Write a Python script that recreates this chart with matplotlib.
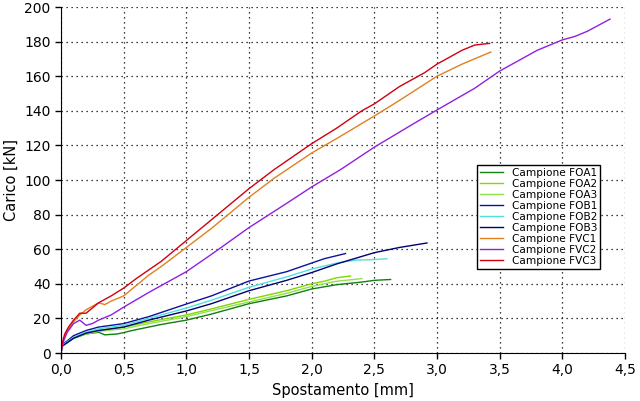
import numpy as np
import matplotlib
matplotlib.use('Agg')
import matplotlib.pyplot as plt

# curve readings (spostamento mm, carico kN)
foa1_x = [0, 0.01, 0.05, 0.1, 0.2, 0.3, 0.35, 0.45, 0.6, 0.8, 1.0, 1.2, 1.5, 1.8, 2.0, 2.2, 2.4, 2.5, 2.63]
foa1_y = [0, 4, 6, 8.5, 11, 12, 10.5, 11, 13.5, 16.5, 19, 22.5, 28.5, 33, 37, 39.5, 41, 42, 42.5]
foa2_x = [0, 0.01, 0.05, 0.1, 0.2, 0.3, 0.5, 0.7, 1.0, 1.2, 1.5, 1.8, 2.0, 2.1, 2.2, 2.31]
foa2_y = [0, 4.5, 6.5, 9, 11.5, 13, 15, 18, 22, 25.5, 31, 36, 40, 41.5, 43.5, 44.5]
foa3_x = [0, 0.01, 0.05, 0.1, 0.2, 0.3, 0.5, 0.7, 1.0, 1.2, 1.5, 1.8, 2.0, 2.2, 2.4]
foa3_y = [0, 4, 6, 8.5, 11, 12.5, 14, 17, 21, 24.5, 29.5, 34.5, 38.5, 41.5, 43]
fob1_x = [0, 0.01, 0.05, 0.1, 0.2, 0.3, 0.5, 0.7, 1.0, 1.2, 1.5, 1.8, 2.0, 2.1, 2.27]
fob1_y = [0, 5, 7, 10, 13, 15, 17, 21, 28.3, 33, 41.6, 47, 52, 54.5, 57.5]
fob2_x = [0, 0.01, 0.05, 0.1, 0.2, 0.3, 0.5, 0.7, 1.0, 1.2, 1.5, 1.8, 2.0, 2.2, 2.35, 2.5, 2.6]
fob2_y = [0, 4.5, 6.5, 9, 12, 14, 16, 20, 26, 30.5, 38, 44, 48.5, 52, 53.7, 54, 54.5]
fob3_x = [0, 0.01, 0.05, 0.1, 0.2, 0.3, 0.5, 0.7, 1.0, 1.2, 1.5, 1.8, 2.0, 2.2, 2.5, 2.7, 2.92]
fob3_y = [0, 4, 6, 8.5, 11.5, 13, 15, 19, 24.3, 28.5, 36, 42, 46.5, 51.5, 58, 61, 63.6]
fvc1_x = [0, 0.02, 0.05, 0.1, 0.15, 0.2, 0.25, 0.3, 0.35, 0.4, 0.5, 0.6, 0.7, 0.8, 1.0, 1.2, 1.5, 1.7, 2.0, 2.2, 2.5, 2.7, 3.0, 3.2, 3.43]
fvc1_y = [0, 7, 13, 18, 22, 25, 27, 29, 28, 30, 33, 39, 45, 50, 61, 72, 90, 101, 115.6, 124, 137, 146, 160, 167, 174]
fvc2_x = [0, 0.02, 0.05, 0.1, 0.15, 0.2, 0.25, 0.3, 0.4, 0.5, 0.7, 1.0, 1.2, 1.5, 1.8, 2.0, 2.23, 2.5, 2.8, 3.0, 3.3, 3.5, 3.8, 4.0, 4.1, 4.2, 4.38]
fvc2_y = [0, 7, 12, 17, 19, 16, 17, 19, 22, 26.5, 35, 47, 57, 72.5, 86.5, 96, 106, 119, 132, 140.5, 153, 163, 175, 181, 183, 186, 193]
fvc3_x = [0, 0.01, 0.03, 0.06, 0.1, 0.15, 0.2, 0.25, 0.3, 0.4, 0.5, 0.6, 0.7, 0.8, 0.9, 1.0, 1.2, 1.4, 1.5, 1.7, 1.9, 2.0, 2.2, 2.4, 2.5, 2.7, 2.9, 3.0, 3.1, 3.2, 3.3, 3.42]
fvc3_y = [0, 6, 11, 15, 19, 23, 23, 26, 29, 33, 37.5, 43, 48, 53, 59, 65, 77, 89, 95, 106, 116, 121, 130, 140, 144, 154, 162, 167, 171, 175, 178, 179]

labels = ['Campione FOA1', 'Campione FOA2', 'Campione FOA3',
          'Campione FOB1', 'Campione FOB2', 'Campione FOB3',
          'Campione FVC1', 'Campione FVC2', 'Campione FVC3']
colors = ['#108010', '#80d800', '#90e050', '#1010a0', '#50e0e0', '#000070',
          '#e08020', '#9020e0', '#d00010']
series = [(foa1_x, foa1_y), (foa2_x, foa2_y), (foa3_x, foa3_y),
          (fob1_x, fob1_y), (fob2_x, fob2_y), (fob3_x, fob3_y),
          (fvc1_x, fvc1_y), (fvc2_x, fvc2_y), (fvc3_x, fvc3_y)]

xticks = [0, 0.5, 1.0, 1.5, 2.0, 2.5, 3.0, 3.5, 4.0, 4.5]
xticklabels = ['0,0', '0,5', '1,0', '1,5', '2,0', '2,5', '3,0', '3,5', '4,0', '4,5']
yticks = [0, 20, 40, 60, 80, 100, 120, 140, 160, 180, 200]

fig = plt.figure(figsize=(6.4, 4.01), dpi=100)
ax = fig.add_subplot(111)
fig.subplots_adjust(left=0.0953, right=0.9766, top=0.9825, bottom=0.1197)

for (x, y), c, lab in zip(series, colors, labels):
    ax.plot(x, y, color=c, lw=1.0, label=lab)

ax.set_xlim(0, 4.5)
ax.set_ylim(0, 200)
ax.set_xticks(xticks)
ax.set_xticklabels(xticklabels)
ax.set_yticks(yticks)
ax.tick_params(labelsize=10, direction='out', length=4, width=1)
ax.grid(True, color='black', linestyle=(0, (1, 3)), linewidth=0.9)
ax.spines['top'].set_visible(False)
ax.spines['right'].set_visible(False)
ax.set_xlabel('Spostamento [mm]', fontsize=10.5)
ax.set_ylabel('Carico [kN]', fontsize=10.5)

leg = ax.legend(loc='upper left', bbox_to_anchor=(0.728, 0.56), fontsize=7.6,
                labelspacing=0.1, handlelength=2.2, borderpad=0.3,
                fancybox=False, framealpha=1, edgecolor='black')
leg.get_frame().set_linewidth(1.0)

plt.savefig('out.png')
